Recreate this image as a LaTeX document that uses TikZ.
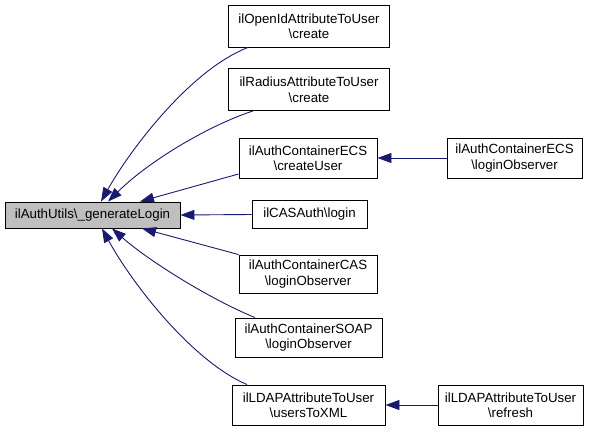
\documentclass[tikz,border=0pt]{standalone}
\usepackage{fontspec}
\setmainfont{Liberation Sans}
\usetikzlibrary{arrows.meta}
\definecolor{edgeblue}{HTML}{191970}
\definecolor{mainfill}{HTML}{BFBFBF}
\tikzset{
  fn/.style={draw=black, line width=0.9pt, fill=white, align=center, inner sep=0pt,
    font=\fontsize{13.3}{15.5}\selectfont},
  mainfn/.style={fn, fill=mainfill},
  edge/.style={draw=edgeblue, line width=0.9pt, {Triangle[length=14pt,width=10pt]}-}
}
\begin{document}
\begin{tikzpicture}[x=1pt,y=-1pt]
\useasboundingbox (0,0) rectangle (599,431);
\node[mainfn, minimum width=175pt, minimum height=26pt] (main) at (92.5,215) {ilAuthUtils\textbackslash \_generateLogin};
\node[fn, minimum width=161pt, minimum height=42pt] (openid) at (309,26) {ilOpenIdAttributeToUser\\\textbackslash create};
\node[fn, minimum width=161pt, minimum height=42pt] (radius) at (309,89.5) {ilRadiusAttributeToUser\\\textbackslash create};
\node[fn, minimum width=138pt, minimum height=40pt] (ecsc) at (308,158) {ilAuthContainerECS\\\textbackslash createUser};
\node[fn, minimum width=135pt, minimum height=40pt] (ecsl) at (514.5,158) {ilAuthContainerECS\\\textbackslash loginObserver};
\node[fn, minimum width=115pt, minimum height=28pt] (casa) at (309.5,214.5) {ilCASAuth\textbackslash login};
\node[fn, minimum width=138pt, minimum height=38pt] (casl) at (308,274) {ilAuthContainerCAS\\\textbackslash loginObserver};
\node[fn, minimum width=147pt, minimum height=39pt] (soap) at (308.5,337.5) {ilAuthContainerSOAP\\\textbackslash loginObserver};
\node[fn, minimum width=153pt, minimum height=40pt] (ldapx) at (308.5,405) {ilLDAPAttributeToUser\\\textbackslash usersToXML};
\node[fn, minimum width=145pt, minimum height=40pt] (ldapr) at (510.5,405) {ilLDAPAttributeToUser\\\textbackslash refresh};

\draw[edge] ([xshift=8.5pt]main.north) .. controls (130,150) and (190,70) .. ([xshift=-61pt]openid.south);
\draw[edge] ([xshift=15.5pt]main.north) .. controls (150,160) and (210,125) .. ([xshift=-56pt]radius.south);
\draw[edge] ([xshift=47.5pt]main.north) -- ([yshift=-16pt]ecsc.west);
\draw[edge] (main.east) -- (casa.west);
\draw[edge] ([xshift=49.5pt]main.south) -- (casl.north west);
\draw[edge] ([xshift=19.5pt]main.south) .. controls (150,262) and (212,300) .. ([xshift=-53.5pt]soap.north);
\draw[edge] ([xshift=9.5pt]main.south) .. controls (130,280) and (190,360) .. ([xshift=-61.5pt]ldapx.north);
\draw[edge] (ecsc.east) -- (ecsl.west);
\draw[edge] (ldapx.east) -- (ldapr.west);
\end{tikzpicture}
\end{document}
